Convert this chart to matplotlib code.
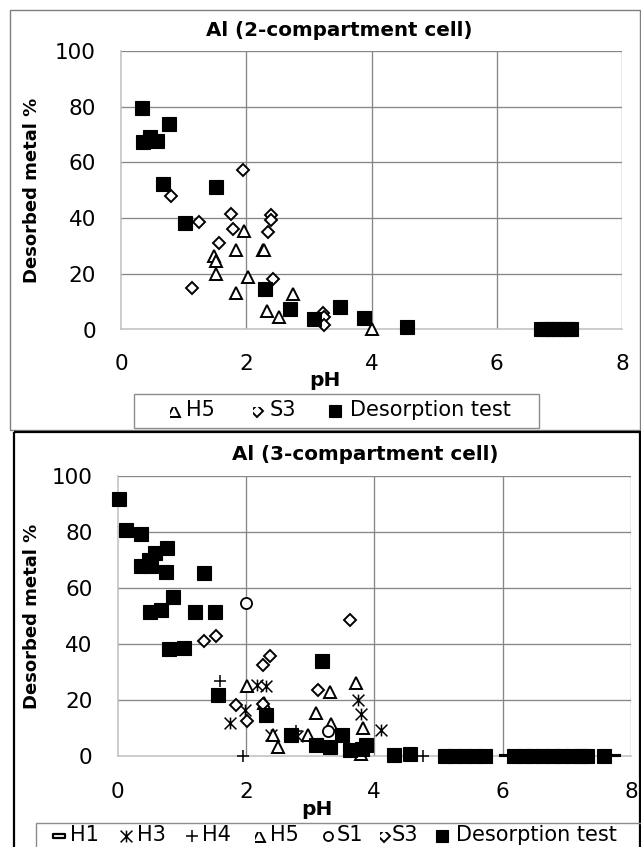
import matplotlib
matplotlib.use("Agg")
import matplotlib.pyplot as plt
from matplotlib.patches import Rectangle
from matplotlib.path import Path

plt.rcParams["font.family"] = "DejaVu Sans"

W, H = 641, 847

# ---------------- Al, 2-compartment cell ----------------
two_h5_ph = [1.96, 1.83, 2.26, 2.29, 1.49, 1.52, 1.52, 2.02, 1.84, 2.75, 2.33, 2.52, 4.00]
two_h5_pct = [35.5, 28.4, 28.7, 28.7, 26.5, 24.7, 20.0, 18.7, 13.2, 12.6, 6.6, 4.4, 0.0]

two_s3_ph = [1.95, 0.80, 1.76, 1.25, 2.40, 2.40, 1.79, 2.34, 1.57, 2.42, 1.13, 3.23, 3.24, 3.24]
two_s3_pct = [57.4, 48.0, 41.3, 38.5, 41.1, 39.3, 36.0, 35.0, 31.0, 18.3, 15.0, 5.9, 4.6, 1.6]

two_des_ph = [0.33, 0.77, 0.35, 0.46, 0.57, 0.67, 1.52, 1.02, 2.30, 2.70, 3.08, 3.49,
              3.88, 4.57, 6.71, 6.80, 6.90, 7.00, 7.10, 7.19]
two_des_pct = [79.4, 73.9, 67.4, 69.0, 67.8, 52.1, 51.0, 38.3, 14.5, 7.5, 3.6, 8.0,
               4.0, 0.8, 0.0, 0.0, 0.0, 0.0, 0.0, 0.0]

# ---------------- Al, 3-compartment cell ----------------
three_h1_ph = [6.02, 7.75]
three_h1_pct = [0.5, 0.5]

three_h3_ph = [2.17, 2.32, 1.99, 1.75, 3.74, 3.80, 4.11, 2.39, 2.80]
three_h3_pct = [25.2, 25.0, 16.4, 11.7, 20.0, 15.0, 9.3, 7.5, 7.2]

three_h4_ph = [1.59, 1.96, 4.76, 2.78]
three_h4_pct = [26.8, 0.0, 0.0, 9.0]

three_h5_ph = [2.01, 3.31, 3.71, 3.09, 2.28, 2.42, 2.50, 2.97, 3.33, 3.83, 3.79]
three_h5_pct = [24.9, 22.8, 26.0, 15.4, 18.8, 7.5, 3.3, 7.5, 11.5, 9.9, 0.8]

three_s1_ph = [2.00, 3.28]
three_s1_pct = [54.5, 8.8]

three_s3_ph = [3.62, 1.34, 1.53, 2.37, 2.27, 3.12, 1.85, 2.27, 2.01]
three_s3_pct = [48.5, 41.0, 42.7, 35.8, 32.4, 23.7, 18.2, 18.6, 12.3]

three_des_ph = [0.02, 0.14, 0.36, 0.77, 0.59, 0.49, 0.37, 0.52, 0.76, 1.34, 0.87, 0.50,
                0.68, 1.21, 1.52, 0.80, 1.04, 1.57, 2.31, 3.18, 2.71, 3.09, 3.31, 3.49,
                3.62, 3.81, 3.87, 4.30, 4.55, 5.10, 5.25, 5.40, 5.55, 5.72, 6.18, 6.33,
                6.48, 6.63, 6.78, 6.93, 7.08, 7.22, 7.32, 7.58]
three_des_pct = [91.5, 80.5, 79.3, 74.0, 72.2, 70.0, 67.8, 67.6, 65.6, 65.4, 56.8, 51.2,
                 52.1, 51.3, 51.3, 38.1, 38.4, 21.8, 14.6, 33.9, 7.6, 3.8, 3.1, 7.5,
                 2.2, 2.4, 3.9, 0.5, 0.8, 0.0, 0.0, 0.0, 0.0, 0.0, 0.0, 0.0,
                 0.0, 0.0, 0.0, 0.0, 0.0, 0.0, 0.0, 0.0]

x_ticks = [0, 2, 4, 6, 8]
y_ticks = [0, 20, 40, 60, 80, 100]
x_label = "pH"
y_label = "Desorbed metal %"
titles = ["Al (2-compartment cell)", "Al (3-compartment cell)"]

# ---------------- marker styles ----------------
STAR = Path([(-1, -1), (1, 1), (-1, 1), (1, -1), (0, -1), (0, 1)],
            [Path.MOVETO, Path.LINETO, Path.MOVETO, Path.LINETO, Path.MOVETO, Path.LINETO])
DASH = Path([(-1, -0.3), (1, -0.3), (1, 0.3), (-1, 0.3), (-1, -0.3)],
            [Path.MOVETO, Path.LINETO, Path.LINETO, Path.LINETO, Path.CLOSEPOLY])

STYLES = {
    "H1": dict(marker=DASH, ms=7, mfc="black", mec="black", mew=0.8),
    "H3": dict(marker=STAR, ms=8.5, mfc="none", mec="black", mew=1.1),
    "H4": dict(marker="+", ms=9, mfc="none", mec="black", mew=1.1),
    "H5": dict(marker="^", ms=8.5, mfc="white", mec="black", mew=1.4),
    "S1": dict(marker="o", ms=8, mfc="white", mec="black", mew=1.3),
    "S3": dict(marker="D", ms=6.2, mfc="white", mec="black", mew=1.4),
    "Desorption test": dict(marker="s", ms=9.7, mfc="black", mec="black", mew=0.8),
}

# legend swatches differ slightly from the plotted markers
LEGEND_TWEAKS = {
    "H1": dict(ms=9, mfc="white", mew=1.6),
    "S1": dict(ms=6.5),
    "Desorption test": dict(ms=9),
}

GRID = "#878787"
AXIS = "#BFBFBF"
FS_TICK = 15.5
FS_TITLE = 14.3
FS_LABEL = 14.5
FS_YLABEL = 13
FS_LEG = 15


def fx(px):
    return px / W


def fy(py):
    return 1 - py / H


fig = plt.figure(figsize=(W / 100, H / 100), dpi=100)

# overlay in pixel units for chart frames and legends
ov = fig.add_axes([0, 0, 1, 1], zorder=-1)
ov.set_xlim(0, W)
ov.set_ylim(H, 0)
ov.axis("off")


def make_axes(left, right, top, bottom, xpad, ypad):
    ax = fig.add_axes([fx(left), fy(bottom), (right - left) / W, (bottom - top) / H])
    ax.set_xlim(0, 8)
    ax.set_ylim(0, 100)
    ax.set_xticks(x_ticks)
    ax.set_yticks(y_ticks)
    for v in x_ticks[1:]:
        ax.axvline(v, color=GRID, lw=0.95, zorder=0)
    for v in y_ticks[1:]:
        ax.axhline(v, color=GRID, lw=0.95, zorder=0)
    ax.spines["top"].set_visible(False)
    ax.spines["right"].set_visible(False)
    for s in ("left", "bottom"):
        ax.spines[s].set_color(AXIS)
        ax.spines[s].set_linewidth(1.1)
    ax.tick_params(length=0, labelsize=FS_TICK, colors="black")
    ax.tick_params(axis="x", pad=xpad)
    ax.tick_params(axis="y", pad=ypad)
    return ax


def scatter(ax, xs, ys, name):
    ax.plot(xs, ys, ls="none", clip_on=False, zorder=3, **STYLES[name])


def legend(box, entries, yc):
    x0, y0, w, h = box
    ov.add_patch(Rectangle((x0, y0), w, h, fill=False, ec="#8c8c8c", lw=1.0))
    for name, mx, tx, clip in entries:
        st = dict(STYLES[name])
        st.update(LEGEND_TWEAKS.get(name, {}))
        ln, = ov.plot([mx], [yc + 1], ls="none", **st)
        if clip:
            # open swatches show only their lower right part
            cr = Rectangle((mx - 4, yc - 3), 16, 16, transform=ov.transData)
            ln.set_clip_path(cr)
        ov.text(tx, yc, name, fontsize=FS_LEG, ha="left", va="center")


# ---------------- top chart ----------------
ov.add_patch(Rectangle((10, 10), 629.5, 420, fill=False, ec="#7f7f7f", lw=1.0))
ax1 = make_axes(121, 622, 51, 329.5, xpad=17.5, ypad=18)
scatter(ax1, two_h5_ph, two_h5_pct, "H5")
scatter(ax1, two_s3_ph, two_s3_pct, "S3")
scatter(ax1, two_des_ph, two_des_pct, "Desorption test")
fig.text(fx(339), fy(30), titles[0], ha="center", va="center",
         fontsize=FS_TITLE, fontweight="bold")
fig.text(fx(325), fy(380), x_label, ha="center", va="center",
         fontsize=FS_LABEL, fontweight="bold")
fig.text(fx(32), fy(190), y_label, rotation=90, ha="center", va="center",
         fontsize=FS_YLABEL, fontweight="bold")
legend((134, 394, 405, 34),
       [("H5", 174, 186, True), ("S3", 257, 270, True),
        ("Desorption test", 335, 350, False)], 410)

# ---------------- bottom chart ----------------
ov.add_patch(Rectangle((14, 432), 625.5, 440, fill=False, ec="black", lw=1.6))
ax2 = make_axes(117.5, 631, 475.5, 756, xpad=18.5, ypad=18)
scatter(ax2, three_h1_ph, three_h1_pct, "H1")
scatter(ax2, three_h3_ph, three_h3_pct, "H3")
scatter(ax2, three_h4_ph, three_h4_pct, "H4")
scatter(ax2, three_h5_ph, three_h5_pct, "H5")
scatter(ax2, three_s1_ph, three_s1_pct, "S1")
scatter(ax2, three_s3_ph, three_s3_pct, "S3")
scatter(ax2, three_des_ph, three_des_pct, "Desorption test")
fig.text(fx(365), fy(454), titles[1], ha="center", va="center",
         fontsize=FS_TITLE, fontweight="bold")
fig.text(fx(317), fy(809), x_label, ha="center", va="center",
         fontsize=FS_LABEL, fontweight="bold")
fig.text(fx(32), fy(616), y_label, rotation=90, ha="center", va="center",
         fontsize=FS_YLABEL, fontweight="bold")
legend((36, 823, 640, 40),
       [("H1", 59, 70, False), ("H3", 126, 137, False), ("H4", 192, 202, False),
        ("H5", 259, 270, True), ("S1", 328, 337, False), ("S3", 384, 392, True),
        ("Desorption test", 442, 456, False)], 835)

fig.savefig("out.png", dpi=100)
